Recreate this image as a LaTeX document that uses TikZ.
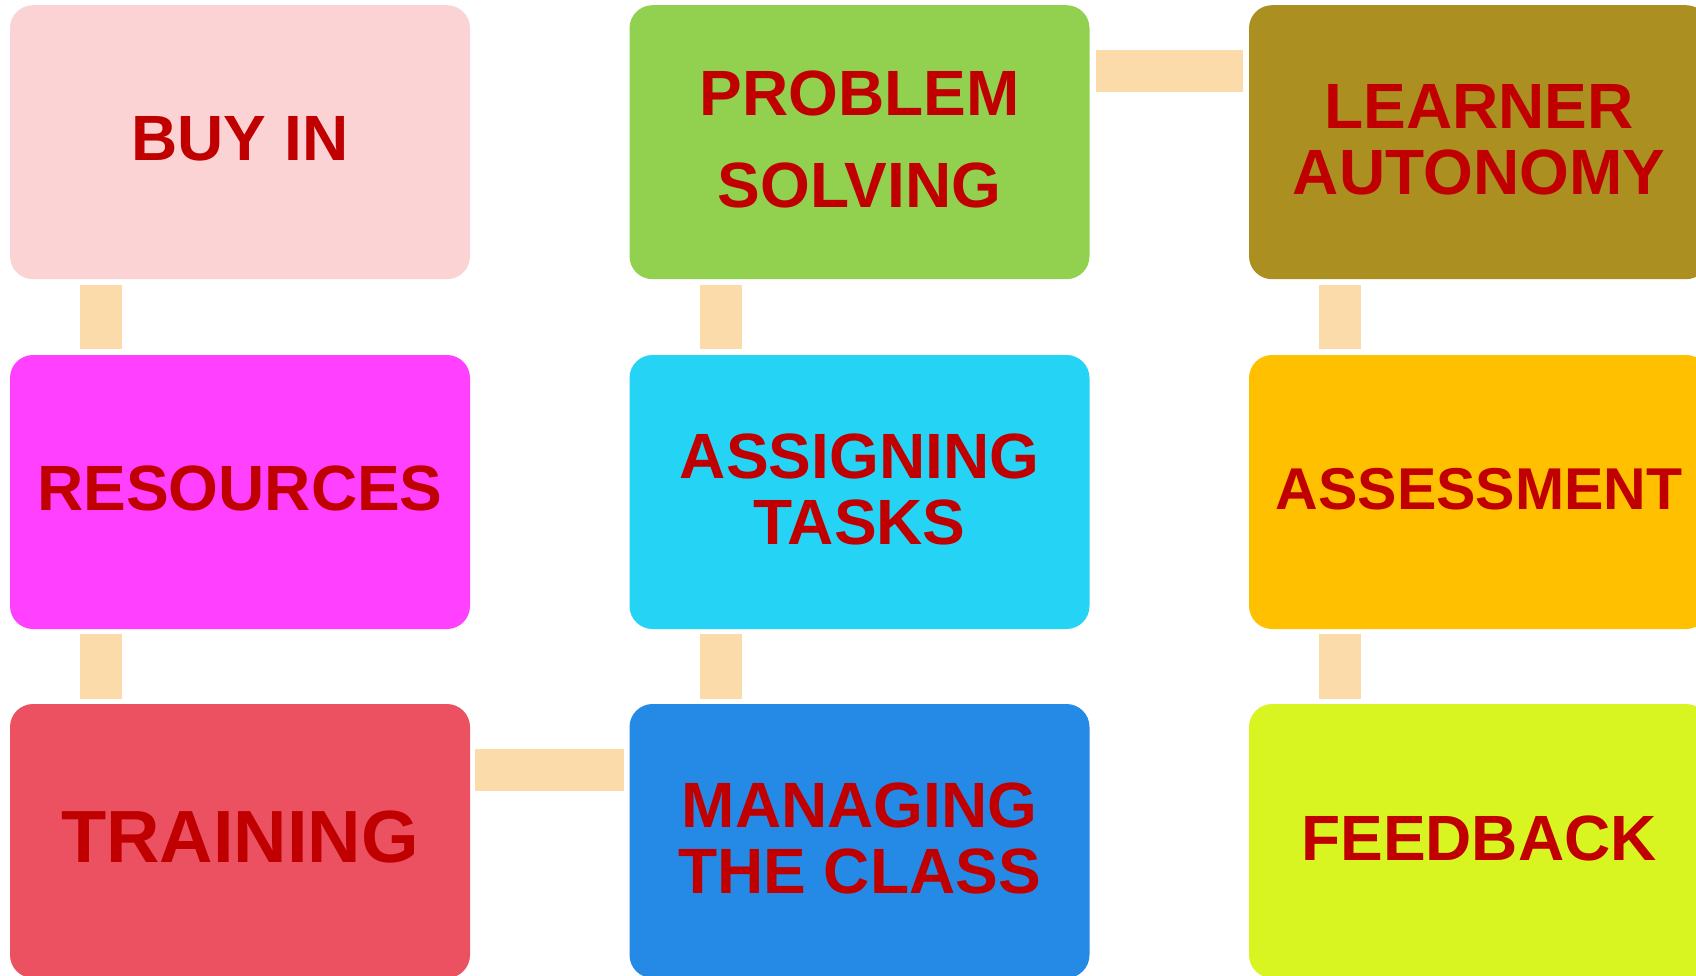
\documentclass[tikz,border=0pt]{standalone}
\usepackage{fontspec}
\setmainfont{Liberation Sans}
\definecolor{cBuy}{HTML}{FCD3D4}
\definecolor{cProb}{HTML}{92D050}
\definecolor{cLearn}{HTML}{AB8F20}
\definecolor{cRes}{HTML}{FF40FF}
\definecolor{cAssign}{HTML}{25D3F5}
\definecolor{cAssess}{HTML}{FFC000}
\definecolor{cTrain}{HTML}{EB5161}
\definecolor{cManage}{HTML}{2589E6}
\definecolor{cFeed}{HTML}{D9F521}
\definecolor{cConn}{HTML}{FBDBAA}
\definecolor{cText}{HTML}{C00000}
\tikzset{
  box/.style={rectangle, rounded corners=23pt, minimum width=460pt, minimum height=274pt,
    inner sep=0pt, draw=none, fill=#1},
  lbl/.style={align=center, text=cText, inner sep=0pt, font=\bfseries\fontsize{64}{66}\selectfont},
  conn/.style={draw=cConn, line width=42pt},
}
\begin{document}
\begin{tikzpicture}[x=1pt,y=-1pt]
\useasboundingbox (0,0) rectangle (1696,976);
% boxes
\node[box=cBuy]    (buy)    at (240,142.2) {};
\node[box=cProb]   (prob)   at (859.5,142.2) {};
\node[box=cLearn]  (learn)  at (1479,142.2) {};
\node[box=cRes]    (res)    at (240,492) {};
\node[box=cAssign] (assign) at (859.5,492) {};
\node[box=cAssess] (assess) at (1479,492) {};
\node[box=cTrain]  (train)  at (240,841) {};
\node[box=cManage] (manage) at (859.5,841) {};
\node[box=cFeed]   (feed)   at (1479,841) {};
% labels
\node[lbl] (tbuy) at ([yshift=3pt]buy.center) {BUY IN};
\node[lbl, font=\bfseries\fontsize{64}{92}\selectfont] (tprob) at ([yshift=3pt]prob.center) {PROBLEM\\SOLVING};
\node[lbl] (tlearn) at ([yshift=2.5pt]learn.center) {LEARNER\\AUTONOMY};
\node[lbl] (tres) at ([yshift=3.5pt]res.center) {RESOURCES};
\node[lbl] (tassign) at ([yshift=3pt]assign.center) {ASSIGNING\\TASKS};
\node[lbl, font=\bfseries\fontsize{59}{66}\selectfont] (tassess) at ([yshift=3pt]assess.center) {ASSESSMENT};
\node[lbl, font=\bfseries\fontsize{74}{76}\selectfont] (ttrain) at ([yshift=4pt]train.center) {TRAINING};
\node[lbl] (tmanage) at ([yshift=3pt]manage.center) {MANAGING\\THE CLASS};
\node[lbl] (tfeed) at ([yshift=3pt]feed.center) {FEEDBACK};
% connectors
\draw[conn] ([xshift=91pt,yshift=-6pt]buy.south west) -- ([xshift=91pt,yshift=6pt]res.north west);
\draw[conn] ([xshift=91pt,yshift=-5pt]res.south west) -- ([xshift=91pt,yshift=5pt]train.north west);
\draw[conn] ([xshift=91.5pt,yshift=-6pt]prob.south west) -- ([xshift=91.5pt,yshift=6pt]assign.north west);
\draw[conn] ([xshift=91.5pt,yshift=-5pt]assign.south west) -- ([xshift=91.5pt,yshift=5pt]manage.north west);
\draw[conn] ([xshift=91pt,yshift=-6pt]learn.south west) -- ([xshift=91pt,yshift=6pt]assess.north west);
\draw[conn] ([xshift=91pt,yshift=-5pt]assess.south west) -- ([xshift=91pt,yshift=5pt]feed.north west);
\draw[conn] ([xshift=6.5pt,yshift=-66pt]prob.north east) -- ([xshift=-6pt,yshift=-66pt]learn.north west);
\draw[conn] ([xshift=5pt,yshift=-66pt]train.north east) -- ([xshift=-5.5pt,yshift=-66pt]manage.north west);
\end{tikzpicture}
\end{document}
